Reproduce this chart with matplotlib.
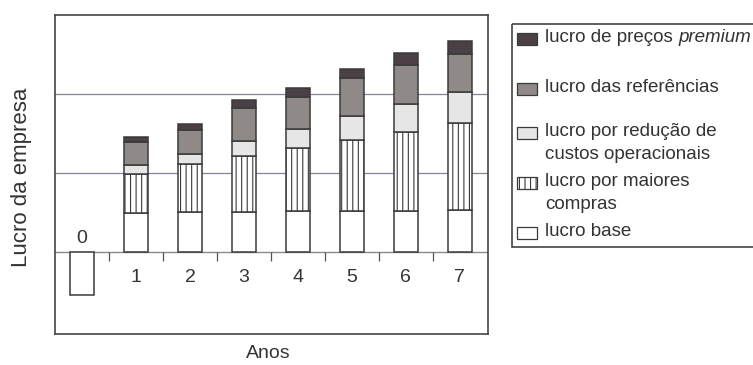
import numpy as np
import matplotlib.pyplot as plt
from matplotlib.patches import Rectangle

plt.rcParams['font.family'] = ['Liberation Sans', 'DejaVu Sans']
plt.rcParams['hatch.linewidth'] = 0.8

# profit components per year (grid unit = 1)
anos = [0, 1, 2, 3, 4, 5, 6, 7]
lucro_base = [-0.54, 0.49, 0.50, 0.51, 0.515, 0.515, 0.52, 0.53]
anos_pos = [1, 2, 3, 4, 5, 6, 7]
maiores_compras = [0.50, 0.61, 0.70, 0.80, 0.90, 1.00, 1.10]
reducao_custos = [0.11, 0.135, 0.19, 0.237, 0.31, 0.355, 0.39]
referencias = [0.29, 0.295, 0.42, 0.413, 0.48, 0.495, 0.49]
precos_premium = [0.06, 0.076, 0.105, 0.106, 0.11, 0.155, 0.16]

labels = ['lucro de preços ', 'lucro das referências',
          'lucro por redução de\ncustos operacionais',
          'lucro por maiores\ncompras', 'lucro base']

edge = '#3a3a3a'
c_dark = '#4b4046'
c_mid = '#8f8987'
c_light = '#e6e6e6'

fig = plt.figure(figsize=(7.53, 3.65), dpi=100)
ax = fig.add_axes([55 / 753, 1 - 334 / 365, 433 / 753, 319 / 365])

w = 0.43
ax.bar(anos, lucro_base, width=w, color='white', edgecolor=edge, lw=1.1, zorder=3)

bottom = np.array(lucro_base[1:])
segs = [(maiores_compras, 'white', '|||'),
        (reducao_custos, c_light, None),
        (referencias, c_mid, None),
        (precos_premium, c_dark, None)]
for vals, col, hatch in segs:
    ax.bar(anos_pos, vals, bottom=bottom, width=w, color=col, edgecolor=edge,
           lw=1.1, hatch=hatch, zorder=3)
    bottom = bottom + np.array(vals)

# grid lines and zero axis
for yv in [1, 2]:
    ax.axhline(yv, color='#85849a', lw=0.9, zorder=1)
ax.axhline(0, color='#8a8a8a', lw=1.0, zorder=2)
ax.vlines(np.arange(0.5, 7, 1), -0.12, 0, color='#555555', lw=0.9, zorder=2)

for a in anos:
    if a == 0:
        ax.text(a, 0.06, str(a), ha='center', va='bottom', fontsize=14, color='#333333')
    else:
        ax.text(a, -0.33, str(a), ha='center', va='center', fontsize=14, color='#333333')

ax.set_xlim(-0.5, 7.52)
ax.set_ylim(-1.04, 3.0)
ax.set_xticks([])
ax.set_yticks([])
for s in ax.spines.values():
    s.set_color('#444444')
    s.set_linewidth(1.2)

fig.text(268 / 753, 1 - 353 / 365, 'Anos', ha='center', va='center',
         fontsize=14, color='#333333')
fig.text(22 / 753, 1 - 177 / 365, 'Lucro da empresa', ha='center', va='center',
         rotation=90, fontsize=16, color='#333333')

# legend box drawn in pixel coordinates
lax = fig.add_axes([0, 0, 1, 1])
lax.set_xlim(0, 753)
lax.set_ylim(365, 0)
lax.axis('off')
lax.patch.set_alpha(0)
lax.add_patch(Rectangle((512, 24), 260, 223, fill=False, edgecolor='#444444', lw=1.2))

entries = [(c_dark, None, 39), (c_mid, None, 89), (c_light, None, 133),
           ('white', '|||', 183), ('white', None, 233)]
for (col, hatch, yc), lab in zip(entries, labels):
    lax.add_patch(Rectangle((517, yc - 6), 20, 12, facecolor=col, edgecolor=edge,
                            lw=0.9, hatch=hatch))
    t = lax.text(545, yc - 9.5, lab, ha='left', va='top', fontsize=13.5,
                 color='#333333', linespacing=1.4)
    if lab.startswith('lucro de pre'):
        lax.annotate('premium', xy=(1, 0), xycoords=t, ha='left', va='bottom',
                     fontsize=13.5, style='italic', color='#333333')

fig.savefig('out.png', dpi=100, facecolor='white')
